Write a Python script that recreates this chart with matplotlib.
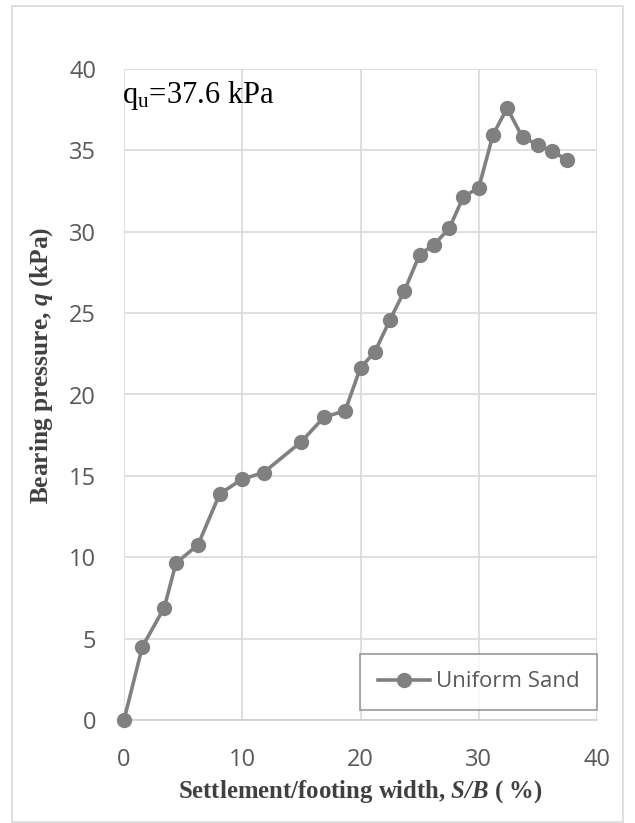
import matplotlib
matplotlib.use("Agg")
import matplotlib.pyplot as plt
from matplotlib.patches import Rectangle

settlement = [0, 1.55, 3.4, 4.4, 6.25, 8.1, 10.0, 11.8, 15.0, 16.9, 18.7, 20.0, 21.2,
              22.5, 23.7, 25.0, 26.2, 27.5, 28.7, 30.0, 31.2, 32.4, 33.7, 35.0, 36.2, 37.5]
pressure = [0, 4.5, 6.9, 9.65, 10.75, 13.9, 14.8, 15.2, 17.1, 18.6, 19.0, 21.65, 22.6,
            24.6, 26.35, 28.6, 29.2, 30.2, 32.15, 32.7, 35.95, 37.6, 35.8, 35.35, 34.95, 34.4]
series_name = "Uniform Sand"
x_ticks = [0, 10, 20, 30, 40]
y_ticks = [0, 5, 10, 15, 20, 25, 30, 35, 40]
annotation = r"q$_{\mathrm{u}}$=37.6 kPa"

plt.rcParams['mathtext.fontset'] = 'custom'
plt.rcParams['mathtext.rm'] = 'Liberation Serif'
plt.rcParams['mathtext.it'] = 'Liberation Serif:italic'
plt.rcParams['mathtext.bf'] = 'Liberation Serif:bold'
plt.rcParams['mathtext.bfit'] = 'Liberation Serif:bold:italic'

fig = plt.figure(figsize=(6.35, 8.23), dpi=100)
fig.patches.append(Rectangle((12/635, 1 - 822/823), 611/635, 816/823, transform=fig.transFigure,
                             fill=False, edgecolor='#d9d9d9', linewidth=1.2))
ax = fig.add_axes([124/635, 1 - 720/823, (597 - 124)/635, (720 - 69)/823])

grey = '#808080'
ax.plot(settlement, pressure, color=grey, linewidth=2.6, marker='o', markersize=10,
        markerfacecolor=grey, markeredgecolor=grey, label=series_name, zorder=3, clip_on=False)

ax.set_xlim(0, 40)
ax.set_ylim(0, 40)
ax.set_xticks(x_ticks)
ax.set_yticks(y_ticks)
ax.grid(True, color='#d9d9d9', linewidth=1.2)
ax.set_axisbelow(True)
for s in ['top', 'right', 'left']:
    ax.spines[s].set_visible(False)
ax.spines['bottom'].set_color('#cfcfcf')
ax.spines['bottom'].set_linewidth(1.2)
ax.tick_params(length=0, pad=20, labelsize=17, labelcolor='#595959')
for lab in ax.get_xticklabels() + ax.get_yticklabels():
    lab.set_fontfamily('Open Sans')

ax.set_xlabel(r"Settlement/footing width, $\mathbfit{S/B}$ ( %)", fontfamily='Liberation Serif',
              fontweight='bold', fontsize=17.8, color='#404040')
ax.xaxis.set_label_coords(0.5, -(792 - 720) / 651)
ax.xaxis.label.set_va('center')
ax.set_ylabel(r"Bearing pressure, $\mathbfit{q}$ (kPa)", fontfamily='Liberation Serif',
              fontweight='bold', fontsize=18.3, color='#404040')
ax.yaxis.set_label_coords((42 - 124) / 473, (720 - 365) / 651)
ax.yaxis.label.set_va('center')

ax.text(-0.2, 37.9, annotation, fontfamily='Liberation Serif', fontsize=22, color='black',
        ha='left', va='baseline')

leg = ax.legend(loc='lower right', bbox_to_anchor=(1.0, 0.015), prop={'family': 'Open Sans', 'size': 16},
                frameon=True, fancybox=False, handlelength=2.35, handletextpad=0.25,
                borderpad=0.8, borderaxespad=0.0, labelcolor='#595959')
leg.get_frame().set_edgecolor('#7f7f7f')
leg.get_frame().set_linewidth(1.2)

fig.savefig('out.png', dpi=100)
